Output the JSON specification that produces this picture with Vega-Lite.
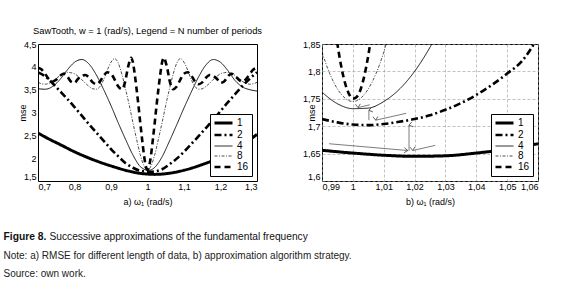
{
  "$schema": "https://vega.github.io/schema/vega-lite/v6.json",
  "padding": {"left": 3, "top": 26, "right": 5, "bottom": 5},
  "bounds": "flush",
  "spacing": 193,
  "datasets": {
    "left": [
      {"N":"1","w":0.7,"mse":2.55},{"N":"1","w":0.73,"mse":2.42},{"N":"1","w":0.76,"mse":2.3},{"N":"1","w":0.8,"mse":2.14},{"N":"1","w":0.85,"mse":1.97},{"N":"1","w":0.9,"mse":1.83},{"N":"1","w":0.95,"mse":1.715},{"N":"1","w":0.98,"mse":1.667},{"N":"1","w":1.0,"mse":1.652},{"N":"1","w":1.02,"mse":1.645},{"N":"1","w":1.05,"mse":1.66},{"N":"1","w":1.1,"mse":1.735},{"N":"1","w":1.15,"mse":1.86},{"N":"1","w":1.2,"mse":2.02},{"N":"1","w":1.25,"mse":2.24},{"N":"1","w":1.3,"mse":2.52},
      {"N":"2","w":0.7,"mse":3.88},{"N":"2","w":0.72,"mse":3.79},{"N":"2","w":0.74,"mse":3.64},{"N":"2","w":0.76,"mse":3.47},{"N":"2","w":0.78,"mse":3.3},{"N":"2","w":0.8,"mse":3.12},{"N":"2","w":0.82,"mse":2.93},{"N":"2","w":0.84,"mse":2.74},{"N":"2","w":0.86,"mse":2.56},{"N":"2","w":0.88,"mse":2.38},{"N":"2","w":0.9,"mse":2.2},{"N":"2","w":0.92,"mse":2.04},{"N":"2","w":0.94,"mse":1.89},{"N":"2","w":0.96,"mse":1.79},{"N":"2","w":0.98,"mse":1.725},{"N":"2","w":0.99,"mse":1.711},{"N":"2","w":1.0,"mse":1.703},{"N":"2","w":1.01,"mse":1.704},{"N":"2","w":1.02,"mse":1.713},{"N":"2","w":1.04,"mse":1.757},{"N":"2","w":1.06,"mse":1.862},{"N":"2","w":1.08,"mse":1.99},{"N":"2","w":1.1,"mse":2.14},{"N":"2","w":1.12,"mse":2.31},{"N":"2","w":1.14,"mse":2.48},{"N":"2","w":1.16,"mse":2.66},{"N":"2","w":1.18,"mse":2.84},{"N":"2","w":1.2,"mse":3.03},{"N":"2","w":1.22,"mse":3.22},{"N":"2","w":1.24,"mse":3.4},{"N":"2","w":1.26,"mse":3.58},{"N":"2","w":1.28,"mse":3.74},{"N":"2","w":1.3,"mse":3.88},
      {"N":"4","w":0.7,"mse":3.52},{"N":"4","w":0.72,"mse":3.51},{"N":"4","w":0.74,"mse":3.57},{"N":"4","w":0.76,"mse":3.72},{"N":"4","w":0.78,"mse":3.93},{"N":"4","w":0.8,"mse":4.1},{"N":"4","w":0.82,"mse":4.16},{"N":"4","w":0.84,"mse":4.06},{"N":"4","w":0.86,"mse":3.82},{"N":"4","w":0.88,"mse":3.5},{"N":"4","w":0.9,"mse":3.15},{"N":"4","w":0.92,"mse":2.77},{"N":"4","w":0.94,"mse":2.41},{"N":"4","w":0.96,"mse":2.07},{"N":"4","w":0.98,"mse":1.817},{"N":"4","w":0.99,"mse":1.762},{"N":"4","w":1.0,"mse":1.732},{"N":"4","w":1.01,"mse":1.745},{"N":"4","w":1.02,"mse":1.8},{"N":"4","w":1.03,"mse":1.898},{"N":"4","w":1.04,"mse":2.03},{"N":"4","w":1.06,"mse":2.37},{"N":"4","w":1.08,"mse":2.73},{"N":"4","w":1.1,"mse":3.1},{"N":"4","w":1.12,"mse":3.45},{"N":"4","w":1.14,"mse":3.78},{"N":"4","w":1.16,"mse":4.04},{"N":"4","w":1.18,"mse":4.16},{"N":"4","w":1.2,"mse":4.1},{"N":"4","w":1.22,"mse":3.92},{"N":"4","w":1.24,"mse":3.7},{"N":"4","w":1.26,"mse":3.56},{"N":"4","w":1.28,"mse":3.5},{"N":"4","w":1.3,"mse":3.47},
      {"N":"8","w":0.7,"mse":3.66},{"N":"8","w":0.71,"mse":3.63},{"N":"8","w":0.72,"mse":3.62},{"N":"8","w":0.73,"mse":3.64},{"N":"8","w":0.74,"mse":3.68},{"N":"8","w":0.75,"mse":3.74},{"N":"8","w":0.76,"mse":3.81},{"N":"8","w":0.77,"mse":3.86},{"N":"8","w":0.78,"mse":3.88},{"N":"8","w":0.79,"mse":3.87},{"N":"8","w":0.8,"mse":3.85},{"N":"8","w":0.81,"mse":3.79},{"N":"8","w":0.82,"mse":3.72},{"N":"8","w":0.83,"mse":3.64},{"N":"8","w":0.84,"mse":3.57},{"N":"8","w":0.85,"mse":3.52},{"N":"8","w":0.86,"mse":3.51},{"N":"8","w":0.87,"mse":3.57},{"N":"8","w":0.88,"mse":3.72},{"N":"8","w":0.89,"mse":3.93},{"N":"8","w":0.9,"mse":4.1},{"N":"8","w":0.91,"mse":4.18},{"N":"8","w":0.92,"mse":4.08},{"N":"8","w":0.93,"mse":3.83},{"N":"8","w":0.94,"mse":3.51},{"N":"8","w":0.95,"mse":3.16},{"N":"8","w":0.96,"mse":2.78},{"N":"8","w":0.97,"mse":2.42},{"N":"8","w":0.98,"mse":2.08},{"N":"8","w":0.99,"mse":1.835},{"N":"8","w":0.995,"mse":1.768},{"N":"8","w":1.0,"mse":1.745},{"N":"8","w":1.005,"mse":1.768},{"N":"8","w":1.01,"mse":1.835},{"N":"8","w":1.02,"mse":2.08},{"N":"8","w":1.03,"mse":2.42},{"N":"8","w":1.04,"mse":2.78},{"N":"8","w":1.05,"mse":3.16},{"N":"8","w":1.06,"mse":3.51},{"N":"8","w":1.07,"mse":3.83},{"N":"8","w":1.08,"mse":4.08},{"N":"8","w":1.09,"mse":4.18},{"N":"8","w":1.1,"mse":4.1},{"N":"8","w":1.11,"mse":3.93},{"N":"8","w":1.12,"mse":3.72},{"N":"8","w":1.13,"mse":3.57},{"N":"8","w":1.14,"mse":3.51},{"N":"8","w":1.15,"mse":3.52},{"N":"8","w":1.16,"mse":3.57},{"N":"8","w":1.17,"mse":3.64},{"N":"8","w":1.18,"mse":3.72},{"N":"8","w":1.19,"mse":3.79},{"N":"8","w":1.2,"mse":3.85},{"N":"8","w":1.21,"mse":3.87},{"N":"8","w":1.22,"mse":3.88},{"N":"8","w":1.23,"mse":3.86},{"N":"8","w":1.24,"mse":3.81},{"N":"8","w":1.25,"mse":3.74},{"N":"8","w":1.26,"mse":3.68},{"N":"8","w":1.27,"mse":3.64},{"N":"8","w":1.28,"mse":3.62},{"N":"8","w":1.29,"mse":3.63},{"N":"8","w":1.3,"mse":3.66},
      {"N":"16","w":0.7,"mse":3.98},{"N":"16","w":0.71,"mse":3.94},{"N":"16","w":0.72,"mse":3.84},{"N":"16","w":0.73,"mse":3.73},{"N":"16","w":0.74,"mse":3.68},{"N":"16","w":0.75,"mse":3.72},{"N":"16","w":0.76,"mse":3.8},{"N":"16","w":0.77,"mse":3.85},{"N":"16","w":0.78,"mse":3.79},{"N":"16","w":0.79,"mse":3.68},{"N":"16","w":0.8,"mse":3.65},{"N":"16","w":0.81,"mse":3.74},{"N":"16","w":0.82,"mse":3.8},{"N":"16","w":0.83,"mse":3.82},{"N":"16","w":0.84,"mse":3.76},{"N":"16","w":0.85,"mse":3.66},{"N":"16","w":0.86,"mse":3.62},{"N":"16","w":0.87,"mse":3.68},{"N":"16","w":0.88,"mse":3.81},{"N":"16","w":0.89,"mse":3.88},{"N":"16","w":0.9,"mse":3.85},{"N":"16","w":0.91,"mse":3.72},{"N":"16","w":0.92,"mse":3.57},{"N":"16","w":0.93,"mse":3.51},{"N":"16","w":0.935,"mse":3.57},{"N":"16","w":0.94,"mse":3.72},{"N":"16","w":0.945,"mse":3.93},{"N":"16","w":0.95,"mse":4.1},{"N":"16","w":0.955,"mse":4.2},{"N":"16","w":0.96,"mse":4.1},{"N":"16","w":0.965,"mse":3.84},{"N":"16","w":0.97,"mse":3.52},{"N":"16","w":0.975,"mse":3.17},{"N":"16","w":0.98,"mse":2.79},{"N":"16","w":0.985,"mse":2.43},{"N":"16","w":0.99,"mse":2.09},{"N":"16","w":0.995,"mse":1.84},{"N":"16","w":0.9975,"mse":1.77},{"N":"16","w":1.0,"mse":1.75},{"N":"16","w":1.0025,"mse":1.77},{"N":"16","w":1.005,"mse":1.84},{"N":"16","w":1.01,"mse":2.09},{"N":"16","w":1.015,"mse":2.43},{"N":"16","w":1.02,"mse":2.79},{"N":"16","w":1.025,"mse":3.17},{"N":"16","w":1.03,"mse":3.52},{"N":"16","w":1.035,"mse":3.84},{"N":"16","w":1.04,"mse":4.1},{"N":"16","w":1.045,"mse":4.2},{"N":"16","w":1.05,"mse":4.1},{"N":"16","w":1.055,"mse":3.93},{"N":"16","w":1.06,"mse":3.72},{"N":"16","w":1.065,"mse":3.57},{"N":"16","w":1.07,"mse":3.51},{"N":"16","w":1.08,"mse":3.57},{"N":"16","w":1.09,"mse":3.72},{"N":"16","w":1.1,"mse":3.85},{"N":"16","w":1.11,"mse":3.88},{"N":"16","w":1.12,"mse":3.81},{"N":"16","w":1.13,"mse":3.68},{"N":"16","w":1.14,"mse":3.62},{"N":"16","w":1.15,"mse":3.66},{"N":"16","w":1.16,"mse":3.76},{"N":"16","w":1.17,"mse":3.82},{"N":"16","w":1.18,"mse":3.8},{"N":"16","w":1.19,"mse":3.74},{"N":"16","w":1.2,"mse":3.65},{"N":"16","w":1.21,"mse":3.68},{"N":"16","w":1.22,"mse":3.79},{"N":"16","w":1.23,"mse":3.85},{"N":"16","w":1.24,"mse":3.8},{"N":"16","w":1.25,"mse":3.72},{"N":"16","w":1.26,"mse":3.68},{"N":"16","w":1.27,"mse":3.73},{"N":"16","w":1.28,"mse":3.84},{"N":"16","w":1.29,"mse":3.94},{"N":"16","w":1.3,"mse":3.98}
    ],
    "right": [
      {"N":"1","w":0.99,"mse":1.656},{"N":"1","w":1.0,"mse":1.651},{"N":"1","w":1.01,"mse":1.647},{"N":"1","w":1.02,"mse":1.645},{"N":"1","w":1.03,"mse":1.646},{"N":"1","w":1.04,"mse":1.651},{"N":"1","w":1.05,"mse":1.658},{"N":"1","w":1.06,"mse":1.668},
      {"N":"2","w":0.99,"mse":1.713},{"N":"2","w":0.995,"mse":1.707},{"N":"2","w":1.0,"mse":1.703},{"N":"2","w":1.005,"mse":1.702},{"N":"2","w":1.01,"mse":1.704},{"N":"2","w":1.015,"mse":1.708},{"N":"2","w":1.02,"mse":1.713},{"N":"2","w":1.025,"mse":1.72},{"N":"2","w":1.03,"mse":1.73},{"N":"2","w":1.035,"mse":1.742},{"N":"2","w":1.04,"mse":1.757},{"N":"2","w":1.045,"mse":1.775},{"N":"2","w":1.05,"mse":1.796},{"N":"2","w":1.055,"mse":1.82},{"N":"2","w":1.06,"mse":1.862},
      {"N":"4","w":0.99,"mse":1.762},{"N":"4","w":0.995,"mse":1.741},{"N":"4","w":1.0,"mse":1.732},{"N":"4","w":1.005,"mse":1.733},{"N":"4","w":1.01,"mse":1.745},{"N":"4","w":1.015,"mse":1.767},{"N":"4","w":1.02,"mse":1.8},{"N":"4","w":1.025,"mse":1.844},{"N":"4","w":1.03,"mse":1.898},
      {"N":"8","w":0.99,"mse":1.835},{"N":"8","w":0.9925,"mse":1.796},{"N":"8","w":0.995,"mse":1.768},{"N":"8","w":0.9975,"mse":1.751},{"N":"8","w":1.0,"mse":1.745},{"N":"8","w":1.0025,"mse":1.751},{"N":"8","w":1.005,"mse":1.768},{"N":"8","w":1.0075,"mse":1.796},{"N":"8","w":1.01,"mse":1.835},{"N":"8","w":1.0125,"mse":1.886},
      {"N":"16","w":0.994,"mse":1.89},{"N":"16","w":0.995,"mse":1.85},{"N":"16","w":0.996,"mse":1.816},{"N":"16","w":0.997,"mse":1.789},{"N":"16","w":0.998,"mse":1.769},{"N":"16","w":0.999,"mse":1.756},{"N":"16","w":1.0,"mse":1.7503},{"N":"16","w":1.001,"mse":1.752},{"N":"16","w":1.002,"mse":1.76},{"N":"16","w":1.003,"mse":1.776},{"N":"16","w":1.004,"mse":1.799},{"N":"16","w":1.005,"mse":1.829},{"N":"16","w":1.006,"mse":1.866}
    ],
    "arrows": [
      {"w0":0.9923,"m0":1.668,"w1":1.0178,"m1":1.6556,"dir":"right"},
      {"w0":1.0267,"m0":1.665,"w1":1.0194,"m1":1.6556,"dir":"left"},
      {"w0":1.0182,"m0":1.655,"w1":1.0182,"m1":1.702,"dir":"up"},
      {"w0":1.0173,"m0":1.7235,"w1":1.0074,"m1":1.711,"dir":"left"},
      {"w0":1.0052,"m0":1.711,"w1":1.0052,"m1":1.729,"dir":"up"},
      {"w0":1.0055,"m0":1.739,"w1":1.0017,"m1":1.734,"dir":"left"}
    ],
    "caption": [
      {"line":"L1","part":"head","text":"Figure 8."},
      {"line":"L1","part":"rest","text":"Successive approximations of the fundamental frequency"},
      {"line":"L2","part":"note","text":"Note: a) RMSE for different length of data, b) approximation algorithm strategy."},
      {"line":"L3","part":"note","text":"Source: own work."}
    ]
  },
  "vconcat": [
    {
      "hconcat": [
        {
          "width": 219,
          "height": 137,
          "title": {"text": "SawTooth, w = 1 (rad/s), Legend = N number of periods", "fontSize": 9.3, "fontWeight": "normal", "offset": 4, "color": "#000"},
          "data": {"name": "left"},
          "mark": {"type": "line", "color": "black", "clip": true, "interpolate": "monotone"},
          "encoding": {
            "x": {"field": "w", "type": "quantitative", "scale": {"domain": [0.7, 1.3], "nice": false, "zero": false},
                  "axis": {"values": [0.7,0.8,0.9,1,1.1,1.2,1.3], "format": "~g", "title": "a)  ω₁ (rad/s)", "labelOverlap": false, "labelPadding": 1, "titlePadding": 6}},
            "y": {"field": "mse", "type": "quantitative", "scale": {"domain": [1.5, 4.5], "nice": false, "zero": false},
                  "axis": {"values": [1.5,2,2.5,3,3.5,4,4.5], "format": "~g", "title": "mse", "labelOverlap": false, "labelPadding": 2, "titlePadding": -4,
                           "labelBaseline": {"condition": {"test": "datum.value < 1.51", "value": "bottom"}, "value": "middle"}}},
            "strokeDash": {"field": "N", "type": "nominal", "scale": {"domain": ["1","2","4","8","16"], "range": [[1,0],[7,3,2,3],[1,0],[3,1.5,1,1.5],[6,4]]}},
            "strokeWidth": {"field": "N", "type": "nominal", "scale": {"type": "ordinal", "domain": ["1","2","4","8","16"], "range": [3,2.6,0.9,0.7,2.6]}}
          }
        },
        {
          "width": 216,
          "height": 137,
          "layer": [
            {
              "data": {"name": "right"},
              "mark": {"type": "line", "color": "black", "clip": true, "interpolate": "monotone"},
              "encoding": {
                "x": {"field": "w", "type": "quantitative", "scale": {"domain": [0.99, 1.06], "nice": false, "zero": false},
                      "axis": {"values": [0.99,1,1.01,1.02,1.03,1.04,1.05,1.06], "format": "~g", "title": "b)  ω₁ (rad/s)", "labelOverlap": false, "labelPadding": 1, "titlePadding": 6, "grid": true, "gridDash": [3,2], "gridColor": "#999", "gridWidth": 0.6}},
                "y": {"field": "mse", "type": "quantitative", "scale": {"domain": [1.6, 1.85], "nice": false, "zero": false},
                      "axis": {"values": [1.6,1.65,1.7,1.75,1.8,1.85], "format": "~g", "title": "mse", "labelOverlap": false, "labelPadding": 2, "titlePadding": -14, "grid": true, "gridDash": [3,2], "gridColor": "#999", "gridWidth": 0.6,
                               "labelBaseline": {"condition": {"test": "datum.value < 1.601", "value": "bottom"}, "value": "middle"}}},
                "strokeDash": {"field": "N", "type": "nominal", "scale": {"domain": ["1","2","4","8","16"], "range": [[1,0],[7,3,2,3],[1,0],[3,1.5,1,1.5],[6,4]]}},
                "strokeWidth": {"field": "N", "type": "nominal", "scale": {"type": "ordinal", "domain": ["1","2","4","8","16"], "range": [3,2.6,0.9,0.7,2.6]}}
              }
            },
            {
              "data": {"name": "arrows"},
              "mark": {"type": "rule", "color": "#444", "strokeWidth": 0.7},
              "encoding": {
                "x": {"field": "w0", "type": "quantitative",
                      "axis": {"values": [0.99,1,1.01,1.02,1.03,1.04,1.05,1.06], "format": "~g", "title": "b)  ω₁ (rad/s)", "labelOverlap": false, "labelPadding": 1, "titlePadding": 6, "grid": true, "gridDash": [3,2], "gridColor": "#999", "gridWidth": 0.6}},
                "y": {"field": "m0", "type": "quantitative",
                      "axis": {"values": [1.6,1.65,1.7,1.75,1.8,1.85], "format": "~g", "title": "mse", "labelOverlap": false, "labelPadding": 2, "titlePadding": -14, "grid": true, "gridDash": [3,2], "gridColor": "#999", "gridWidth": 0.6,
                               "labelBaseline": {"condition": {"test": "datum.value < 1.601", "value": "bottom"}, "value": "middle"}}},
                "x2": {"field": "w1"},
                "y2": {"field": "m1"}
              }
            },
            {
              "data": {"name": "arrows"},
              "mark": {"type": "point", "shape": "M-1,-0.7L0,0L-1,0.7", "filled": false, "color": "#444", "strokeWidth": 0.8, "size": 50, "opacity": 1},
              "encoding": {
                "x": {"field": "w1", "type": "quantitative",
                      "axis": {"values": [0.99,1,1.01,1.02,1.03,1.04,1.05,1.06], "format": "~g", "title": "b)  ω₁ (rad/s)", "labelOverlap": false, "labelPadding": 1, "titlePadding": 6, "grid": true, "gridDash": [3,2], "gridColor": "#999", "gridWidth": 0.6}},
                "y": {"field": "m1", "type": "quantitative",
                      "axis": {"values": [1.6,1.65,1.7,1.75,1.8,1.85], "format": "~g", "title": "mse", "labelOverlap": false, "labelPadding": 2, "titlePadding": -14, "grid": true, "gridDash": [3,2], "gridColor": "#999", "gridWidth": 0.6,
                               "labelBaseline": {"condition": {"test": "datum.value < 1.601", "value": "bottom"}, "value": "middle"}}},
                "angle": {"field": "dir", "type": "nominal", "scale": {"domain": ["right","left","up"], "range": [5,167,270]}, "legend": null}
              }
            }
          ]
        }
      ],
      "spacing": 65,
      "bounds": "flush",
      "resolve": {"legend": {"strokeDash": "independent", "strokeWidth": "independent"}, "scale": {"strokeDash": "independent", "strokeWidth": "independent"}}
    },
    {
      "width": 1,
      "height": 37,
      "view": {"stroke": null},
      "data": {"name": "caption"},
      "encoding": {
        "y": {"field": "line", "type": "nominal", "axis": null, "scale": {"type": "point", "domain": ["L1","L2","L3"], "padding": 0}},
        "text": {"field": "text", "type": "nominal"}
      },
      "layer": [
        {"transform": [{"filter": "datum.part == 'head'"}], "mark": {"type": "text", "align": "left", "baseline": "middle", "fontSize": 10.3, "fontWeight": "bold", "dx": -35, "color": "#111"}},
        {"transform": [{"filter": "datum.part == 'rest'"}], "mark": {"type": "text", "align": "left", "baseline": "middle", "fontSize": 10.2, "dx": 11, "color": "#111"}},
        {"transform": [{"filter": "datum.part == 'note'"}], "mark": {"type": "text", "align": "left", "baseline": "middle", "fontSize": 10, "dx": -35, "color": "#222"}}
      ]
    }
  ],
  "config": {
    "font": "Liberation Sans",
    "view": {"stroke": "black", "strokeWidth": 1},
    "axis": {"labelFontSize": 9, "titleFontSize": 9, "titleFontWeight": "normal", "labelColor": "#000", "titleColor": "#000", "domain": false, "ticks": false, "labelPadding": 2, "titlePadding": 4, "grid": false, "labelOverlap": false},
    "legend": {"orient": "bottom-right", "offset": 5, "title": null, "strokeColor": "black", "fillColor": "white", "padding": 3, "labelFontSize": 10, "labelColor": "#000", "symbolType": "M-1,0L3,0", "symbolSize": 81, "symbolStrokeColor": "black", "rowPadding": 0, "labelOffset": 12},
    "locale": {"number": {"decimal": ",", "thousands": ".", "grouping": [3], "currency": ["", " €"]}}
  }
}
